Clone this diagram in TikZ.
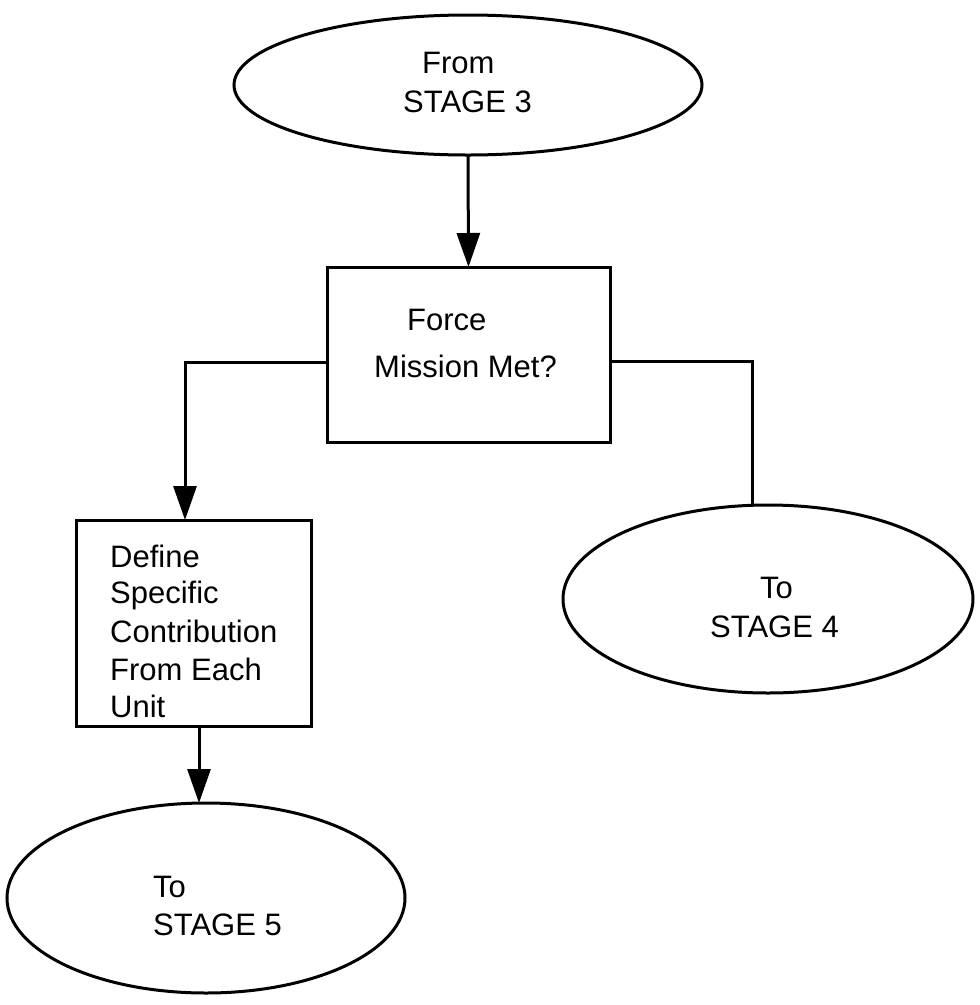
\documentclass[tikz,border=0pt]{standalone}
\usepackage{fontspec}
\setmainfont{Liberation Sans}
\usetikzlibrary{shapes.geometric,arrows.meta}
\begin{document}
\begin{tikzpicture}[x=1pt,y=-1pt,
  shapeline/.style={draw=black,line width=3pt,inner sep=0pt,outer sep=0pt},
  oval/.style={shapeline,ellipse},
  stepbox/.style={shapeline,rectangle},
  label/.style={anchor=base west,inner sep=0pt,font=\fontsize{31}{37}\selectfont},
  flow/.style={line width=3pt,-{Triangle[length=34pt,width=23pt]}},
  plain/.style={line width=3pt}]
\useasboundingbox (0,0) rectangle (980,1005);

% terminals and process boxes
\node[oval,minimum width=468pt,minimum height=140pt] (from3) at (468,85) {};
\node[stepbox,minimum width=283pt,minimum height=175pt] (met) at (468.5,354.5) {};
\node[stepbox,minimum width=235pt,minimum height=206pt] (define) at (193.5,623) {};
\node[oval,minimum width=410pt,minimum height=188pt] (to4) at (768,599) {};
\node[oval,minimum width=398pt,minimum height=190pt] (to5) at (206,898) {};

% texts
\node[label] (t3a) at (422,73) {From};
\node[label] (t3b) at (403,112) {STAGE 3};
\node[label] (tma) at (407,330) {Force};
\node[label] (tmb) at (374,377) {Mission Met?};
\node[label] (tda) at (110,567) {Define};
\node[label] (tdb) at (110,603) {Specific};
\node[label] (tdc) at (110,642) {Contribution};
\node[label] (tdd) at (110,680) {From Each};
\node[label] (tde) at (110,717) {Unit};
\node[label] (t4a) at (760,598) {To};
\node[label] (t4b) at (710,637) {STAGE 4};
\node[label] (t5a) at (153,897) {To};
\node[label] (t5b) at (153,935) {STAGE 5};

% connectors
\coordinate (elbowL) at (185,362);
\coordinate (elbowR) at (752,361);
\coordinate (downx) at (199,0);

\draw[flow] (from3.south) -- (met.north);
\draw[flow] (met.west |- elbowL) -- (elbowL) -- (elbowL |- define.north);
\draw[plain] (met.east |- elbowR) -- (elbowR) -- (elbowR |- to4.north);
\draw[flow] (define.south -| downx) -- (to5.north -| downx);
\end{tikzpicture}
\end{document}
